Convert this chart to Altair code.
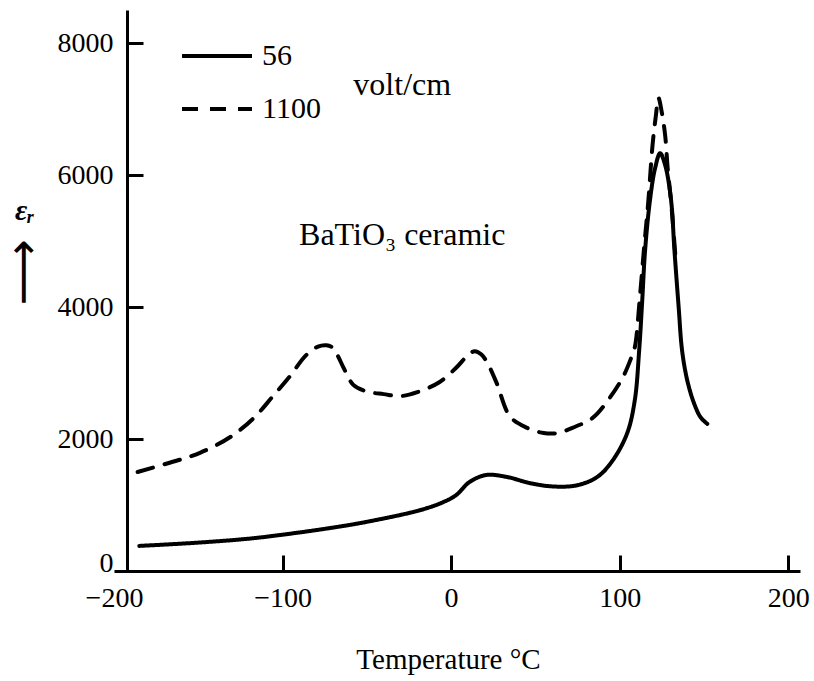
import altair as alt
import pandas as pd

# Relative permittivity of BaTiO3 ceramic against temperature at two field strengths
temp_56 = [-185, -150, -120, -100, -72, -50, -18, -5, 3, 11,
           21, 33, 47, 61, 75, 87, 96, 104.5, 109, 111.6,
           113.4, 115.1, 118, 121, 124, 127, 130.5, 132.5, 135, 137,
           140, 144, 148, 152]
eps_56 = [380, 430, 490, 550, 650, 745, 924, 1040, 1150, 1350,
          1455, 1425, 1330, 1280, 1300, 1430, 1680, 2090, 2590, 3350,
          4100, 4860, 5620, 6100, 6330, 6150, 5620, 4860, 4000, 3350,
          2900, 2550, 2330, 2230]

temp_1100 = [-186, -167, -149, -131, -117, -106, -96, -86, -79, -74,
             -70, -67, -64, -58, -50, -40, -30, -20, -7, 3,
             10, 14, 18, 22, 27, 35, 45, 55, 63, 72,
             84, 94, 102, 107, 109, 112, 114.5, 117, 119.5, 121.5,
             123, 125, 127, 128.5, 130.5, 133]
eps_1100 = [1500, 1640, 1790, 2030, 2320, 2640, 2940, 3270, 3400, 3420,
            3380, 3250, 3090, 2820, 2720, 2680, 2650, 2710, 2860, 3080,
            3270, 3330, 3280, 3130, 2850, 2340, 2170, 2090, 2090, 2170,
            2320, 2620, 2940, 3240, 3390, 4150, 4900, 5600, 6450, 6900,
            7170, 6950, 6600, 6100, 5600, 4800]

field_labels = ["56", "1100"]

x_label_values = [-200, -100, 0, 100, 200]
x_tick_values = [-100, 0, 100, 200]
y_label_values = [0, 2000, 4000, 6000, 8000]
y_tick_values = [2000, 4000, 6000, 8000]

note_text = ["volt/cm", "BaTiO₃ ceramic"]
note_temp = [-29, -29]
note_eps = [7212, 4939]

curves = pd.concat([
    pd.DataFrame({"temp": temp_56, "eps": eps_56, "field": field_labels[0]}),
    pd.DataFrame({"temp": temp_1100, "eps": eps_1100, "field": field_labels[1]}),
], ignore_index=True)
notes = pd.DataFrame({"temp": note_temp, "eps": note_eps, "text": note_text})

FONT = "Liberation Serif"
INK = "black"

x_scale = alt.Scale(domain=[-200, 207], nice=False, zero=False)
y_scale = alt.Scale(domain=[0, 8500], nice=False, zero=False)

curve_layer = alt.Chart(curves).mark_line(
    color=INK, strokeWidth=4, interpolate="catmull-rom", strokeCap="round"
).encode(
    x=alt.X("temp:Q", scale=x_scale, axis=alt.Axis(
        values=x_label_values, format="d", ticks=False, grid=False,
        domainColor=INK, domainWidth=3, labelColor=INK, labelFont=FONT,
        labelFontSize=28, labelPadding=13, labelFlush=False,
        title="Temperature °C", titleFont=FONT, titleFontSize=29,
        titleFontWeight="normal", titleColor=INK, titleX=334, titleY=97,
        titleAlign="center", titleBaseline="alphabetic")),
    y=alt.Y("eps:Q", scale=y_scale, axis=alt.Axis(
        values=y_label_values, format="d", ticks=False, grid=False, offset=-13,
        domainColor=INK, domainWidth=3, labelColor=INK, labelFont=FONT,
        labelFontSize=28, labelPadding=14,
        labelOffset={"condition": {"test": "datum.value === 0", "value": -8}, "value": 0},
        title="εᵣ", titleFont=FONT, titleFontSize=30, titleFontStyle="italic",
        titleFontWeight="bold", titleColor=INK, titleAngle=0, titleX=-103,
        titleY=200, titleAlign="center", titleBaseline="middle")),
    strokeDash=alt.StrokeDash("field:N", scale=alt.Scale(
        domain=field_labels, range=[[1, 0], [16, 12]]), legend=alt.Legend(
        orient="none", legendX=66, legendY=9, title=None, padding=0,
        symbolType="stroke", symbolSize=4900, symbolStrokeWidth=4,
        symbolStrokeColor=INK, labelFont=FONT, labelFontSize=30,
        labelColor=INK, labelOffset=8, rowPadding=1)),
    detail="field:N",
)

# Text notes; this layer also carries the inward-pointing tick marks
note_layer = alt.Chart(notes).mark_text(
    font=FONT, fontSize=32, color=INK, align="center", baseline="alphabetic"
).encode(
    x=alt.X("temp:Q", scale=x_scale, axis=alt.Axis(
        orient="top", offset=-561, values=x_tick_values, labels=False,
        domain=False, grid=False, tickSize=16, tickWidth=3, tickColor=INK,
        title=None)),
    y=alt.Y("eps:Q", scale=y_scale, axis=alt.Axis(
        orient="right", offset=-673, values=y_tick_values, labels=False,
        domain=False, grid=False, tickSize=16, tickWidth=3, tickColor=INK,
        title="⟶", titleFont="DejaVu Sans", titleFontSize=46,
        titleFontWeight="normal", titleColor=INK, titleAngle=270,
        titleX=-104, titleY=262, titleAlign="center",
        titleBaseline="middle")),
    text="text:N",
)

chart = alt.layer(curve_layer, note_layer).resolve_axis(
    x="independent", y="independent"
).properties(
    width=686, height=561,
    autosize=alt.AutoSizeParams(type="none"),
    padding={"left": 114, "top": 10, "right": 14, "bottom": 110},
    background="white",
).configure_view(stroke=None)

chart.save("out.html", embed_options={"renderer": "svg", "actions": False})
